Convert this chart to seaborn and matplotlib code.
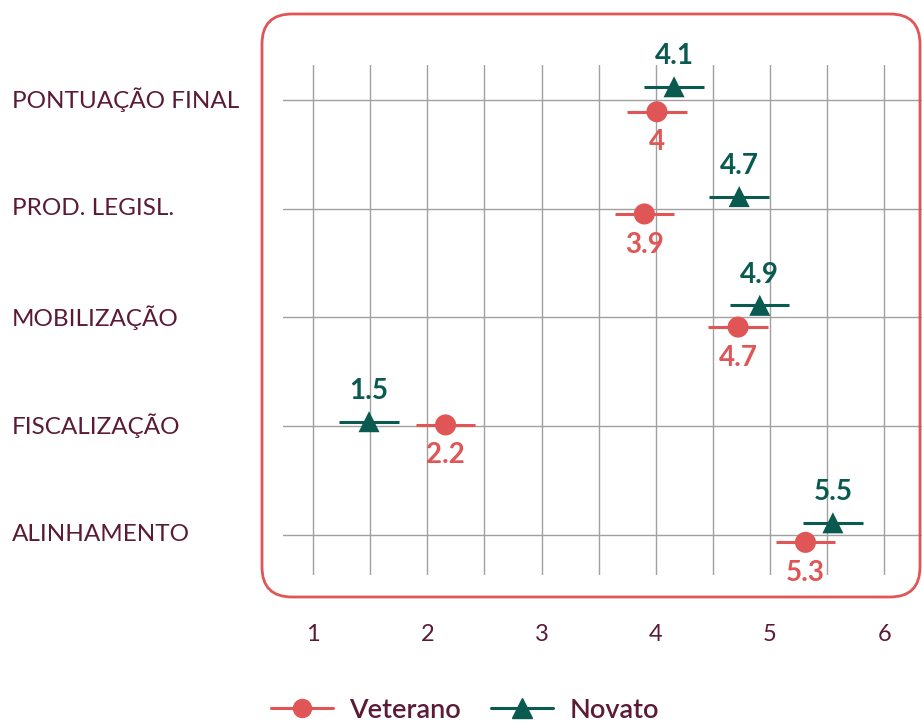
import numpy as np
import pandas as pd
import matplotlib
matplotlib.use("Agg")
import matplotlib.pyplot as plt
from matplotlib.lines import Line2D
from matplotlib.patches import FancyBboxPatch
from matplotlib.transforms import IdentityTransform, blended_transform_factory
import seaborn as sns

# ------------------------------------------------------------
# data
# ------------------------------------------------------------
categorias = ["PONTUAÇÃO FINAL", "PROD. LEGISL.", "MOBILIZAÇÃO", "FISCALIZAÇÃO", "ALINHAMENTO"]
veterano = [4.01, 3.90, 4.72, 2.16, 5.31]
novato = [4.16, 4.73, 4.91, 1.49, 5.55]
veterano_rotulos = ["4", "3.9", "4.7", "2.2", "5.3"]
novato_rotulos = ["4.1", "4.7", "4.9", "1.5", "5.5"]
veterano_erro = [0.26, 0.26, 0.26, 0.26, 0.26]
novato_erro = [0.26, 0.26, 0.26, 0.26, 0.26]
x_ticks = [1, 2, 3, 4, 5, 6]

# vertical dodge of the points inside each row
desloc_veterano = [0.11, 0.05, 0.09, -0.01, 0.07]
desloc_novato = [-0.12, -0.11, -0.11, -0.04, -0.11]

VERMELHO = "#e05656"
VERDE = "#0b5a50"
VINHO = "#5b1a36"
CINZA = "#a0a0a0"

sns.set_style("white")
plt.rcParams["font.family"] = ["Lato", "DejaVu Sans"]

linhas = []
for i, c in enumerate(categorias):
    linhas.append(dict(categoria=c, grupo="Veterano", media=veterano[i], erro=veterano_erro[i],
                       y=i + desloc_veterano[i], rotulo=veterano_rotulos[i]))
    linhas.append(dict(categoria=c, grupo="Novato", media=novato[i], erro=novato_erro[i],
                       y=i + desloc_novato[i], rotulo=novato_rotulos[i]))
df = pd.DataFrame(linhas)

fig = plt.figure(figsize=(9.22, 7.22), dpi=100)
W, H = 922, 722
ax = fig.add_axes([283 / W, 1 - 575 / H, (922 - 283) / W, (575 - 65) / H])

# grid
for xv in np.arange(1, 6.01, 0.5):
    ax.axvline(xv, color=CINZA, lw=1, zorder=0)
for i in range(len(categorias)):
    ax.axhline(i, color=CINZA, lw=1, zorder=0)

cores = {"Veterano": VERMELHO, "Novato": VERDE}
# error bars
for _, r in df.iterrows():
    ax.hlines(r["y"], r["media"] - r["erro"], r["media"] + r["erro"], color=cores[r["grupo"]], lw=2.2, zorder=2)

sns.scatterplot(data=df, x="media", y="y", hue="grupo", style="grupo", palette=cores,
                markers={"Veterano": "o", "Novato": "^"}, s=230, edgecolor="none",
                legend=False, ax=ax, zorder=3)

# value labels
for _, r in df.iterrows():
    dy = -22 if r["grupo"] == "Veterano" else 22
    ax.annotate(r["rotulo"], (r["media"], r["y"]), xytext=(0, dy), textcoords="offset points",
                ha="center", va="center", fontsize=20, fontweight="bold", color=cores[r["grupo"]])

ax.set_xlim(0.737, 6.33)
ax.set_ylim(4.37, -0.32)
ax.set_xticks(x_ticks)
ax.set_xticklabels([str(t) for t in x_ticks], fontsize=17, color=VINHO)
ax.tick_params(axis="x", length=0, pad=35)
ax.set_yticks([])
ax.set_xlabel("")
ax.set_ylabel("")
for s in ax.spines.values():
    s.set_visible(False)

# category labels on the left
trans = blended_transform_factory(fig.transFigure, ax.transData)
for i, c in enumerate(categorias):
    ax.text(12 / W, i, c, transform=trans, ha="left", va="center", fontsize=17.5, color=VINHO)

# rounded frame
caixa = FancyBboxPatch((262, H - 597), 658, 583, boxstyle="round,pad=0,rounding_size=30",
                       transform=IdentityTransform(), fill=False, edgecolor=VERMELHO, lw=2)
fig.patches.append(caixa)

handles = [Line2D([], [], color=VERMELHO, marker="o", markersize=13, lw=2.2),
           Line2D([], [], color=VERDE, marker="^", markersize=14, lw=2.2)]
leg = fig.legend(handles, ["Veterano", "Novato"], loc="center", bbox_to_anchor=(465 / W, 1 - 710 / H),
                 ncol=2, frameon=False, fontsize=19.5, handlelength=2.3, handletextpad=0.6,
                 columnspacing=1.1)
for t in leg.get_texts():
    t.set_color(VINHO)
    t.set_fontweight("semibold")

plt.savefig("out.png", dpi=100)
